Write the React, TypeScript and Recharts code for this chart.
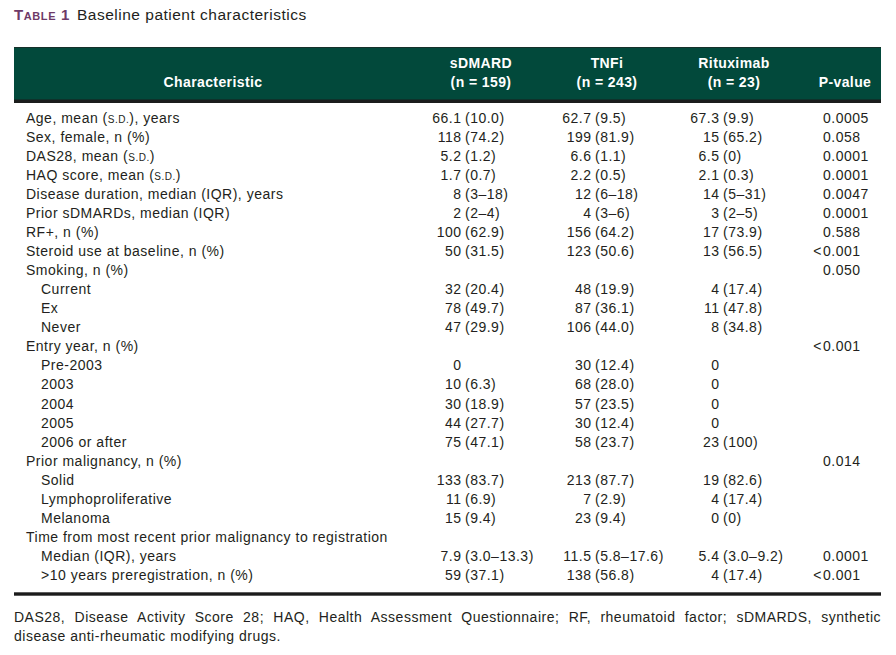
import { ScatterChart, Scatter, XAxis, YAxis, Customized } from "recharts";

// ---- table content ----
const ROW_LABELS = [
  "Age, mean (s.d.), years",
  "Sex, female, n (%)",
  "DAS28, mean (s.d.)",
  "HAQ score, mean (s.d.)",
  "Disease duration, median (IQR), years",
  "Prior sDMARDs, median (IQR)",
  "RF+, n (%)",
  "Steroid use at baseline, n (%)",
  "Smoking, n (%)",
  "Current",
  "Ex",
  "Never",
  "Entry year, n (%)",
  "Pre-2003",
  "2003",
  "2004",
  "2005",
  "2006 or after",
  "Prior malignancy, n (%)",
  "Solid",
  "Lymphoproliferative",
  "Melanoma",
  "Time from most recent prior malignancy to registration",
  "Median (IQR), years",
  ">10 years preregistration, n (%)",
];

// 1 = sub-item of the row group above
const ROW_LEVEL = [0, 0, 0, 0, 0, 0, 0, 0, 0, 1, 1, 1, 0, 1, 1, 1, 1, 1, 0, 1, 1, 1, 0, 1, 1];

const SDMARD = [
  "66.1 (10.0)", "118 (74.2)", "5.2 (1.2)", "1.7 (0.7)", "8 (3–18)", "2 (2–4)",
  "100 (62.9)", "50 (31.5)", "", "32 (20.4)", "78 (49.7)", "47 (29.9)", "",
  "0", "10 (6.3)", "30 (18.9)", "44 (27.7)", "75 (47.1)", "",
  "133 (83.7)", "11 (6.9)", "15 (9.4)", "", "7.9 (3.0–13.3)", "59 (37.1)",
];

const TNFI = [
  "62.7 (9.5)", "199 (81.9)", "6.6 (1.1)", "2.2 (0.5)", "12 (6–18)", "4 (3–6)",
  "156 (64.2)", "123 (50.6)", "", "48 (19.9)", "87 (36.1)", "106 (44.0)", "",
  "30 (12.4)", "68 (28.0)", "57 (23.5)", "30 (12.4)", "58 (23.7)", "",
  "213 (87.7)", "7 (2.9)", "23 (9.4)", "", "11.5 (5.8–17.6)", "138 (56.8)",
];

const RITUXIMAB = [
  "67.3 (9.9)", "15 (65.2)", "6.5 (0)", "2.1 (0.3)", "14 (5–31)", "3 (2–5)",
  "17 (73.9)", "13 (56.5)", "", "4 (17.4)", "11 (47.8)", "8 (34.8)", "",
  "0", "0", "0", "0", "23 (100)", "",
  "19 (82.6)", "4 (17.4)", "0 (0)", "", "5.4 (3.0–9.2)", "4 (17.4)",
];

const P_VALUES = [
  "0.0005", "0.058", "0.0001", "0.0001", "0.0047", "0.0001", "0.588", "<0.001",
  "0.050", "", "", "", "<0.001", "", "", "", "", "", "0.014", "", "", "", "",
  "0.0001", "<0.001",
];

const HEADER_TITLES = ["Characteristic", "sDMARD", "TNFi", "Rituximab", "P-value"];
const HEADER_COUNTS = ["", "(n = 159)", "(n = 243)", "(n = 23)", ""];

const TITLE_LABEL = "Table 1";
const TITLE_TEXT = "Baseline patient characteristics";
const FOOTNOTE_LINES = [
  "DAS28, Disease Activity Score 28; HAQ, Health Assessment Questionnaire; RF, rheumatoid factor; sDMARDS, synthetic",
  "disease anti-rheumatic modifying drugs.",
];

// ---- layout ----
const W = 896;
const H = 655;
const FONT = "'Liberation Sans', Arial, Helvetica, sans-serif";
const INK = "#231f20";
const GREEN = "#02493b";
const PURPLE = "#6e3a68";
const TRACK = 0.5; // the scan is a touch wider than plain Arial

const COL_X = { label: 26, sdmard: 465, tnfi: 595, ritux: 723, p: 823 };
const HEADER_X = [213, 481, 607, 734, 845];
const TABLE_LEFT = 14;
const TABLE_RIGHT = 881;

const toPoints = (texts: string[], x: number) =>
  texts
    .map((text, row) => ({ x, row, text, level: ROW_LEVEL[row] }))
    .filter((d) => d.text !== "");

const labelData = toPoints(ROW_LABELS, COL_X.label);
const sdmardData = toPoints(SDMARD, COL_X.sdmard);
const tnfiData = toPoints(TNFI, COL_X.tnfi);
const rituxData = toPoints(RITUXIMAB, COL_X.ritux);
const pData = toPoints(P_VALUES, COL_X.p);

const textStyle = { fontFamily: FONT, fontSize: 14, fill: INK, letterSpacing: TRACK };

function LabelCell(props: any) {
  const { cx, cy, payload } = props;
  const parts = String(payload.text).split(/(s\.d\.)/);
  return (
    <text x={cx + payload.level * 15} y={cy} dy="0.35em" textAnchor="start" style={textStyle}>
      {parts.map((p: string, i: number) =>
        p === "s.d." ? (
          <tspan key={i} fontSize={10}>
            S.D.
          </tspan>
        ) : (
          <tspan key={i}>{p}</tspan>
        )
      )}
    </text>
  );
}

function ValueCell(props: any) {
  const { cx, cy, payload } = props;
  const t: string = payload.text;
  const i = t.indexOf(" (");
  const head = i >= 0 ? t.slice(0, i) : t;
  const tail = i >= 0 ? t.slice(i + 1) : "";
  return (
    <g>
      <text x={cx - 3.5} y={cy} dy="0.35em" textAnchor="end" style={textStyle}>
        {head}
      </text>
      {tail && (
        <text x={cx} y={cy} dy="0.35em" textAnchor="start" style={textStyle}>
          {tail}
        </text>
      )}
    </g>
  );
}

function PCell(props: any) {
  const { cx, cy, payload } = props;
  const t: string = payload.text;
  const lt = t.startsWith("<");
  return (
    <g>
      {lt && (
        <text x={cx - 1} y={cy} dy="0.35em" textAnchor="end" style={textStyle}>
          {"<"}
        </text>
      )}
      <text x={cx} y={cy} dy="0.35em" textAnchor="start" style={textStyle}>
        {lt ? t.slice(1) : t}
      </text>
    </g>
  );
}

function Frame() {
  const head = {
    fontFamily: FONT,
    fontSize: 14,
    fontWeight: 700,
    fill: "#ffffff",
    letterSpacing: 0.4,
  };
  return (
    <g>
      <text
        x={TABLE_LEFT}
        y={20}
        style={{ fontFamily: FONT, fill: PURPLE, fontWeight: 700, letterSpacing: 0.6 }}
      >
        <tspan fontSize={15}>{TITLE_LABEL[0]}</tspan>
        <tspan fontSize={11}>{TITLE_LABEL.slice(1, 5).toUpperCase()}</tspan>
        <tspan fontSize={15}>{TITLE_LABEL.slice(5)}</tspan>
      </text>
      <text x={77} y={20} style={{ fontFamily: FONT, fontSize: 15.5, fill: INK, letterSpacing: 0.5 }}>
        {TITLE_TEXT}
      </text>

      <rect x={TABLE_LEFT} y={47} width={TABLE_RIGHT - TABLE_LEFT} height={56} fill={GREEN} />
      <rect x={TABLE_LEFT} y={47} width={TABLE_RIGHT - TABLE_LEFT} height={1} fill="#16302a" />
      <rect x={TABLE_LEFT} y={99.5} width={TABLE_RIGHT - TABLE_LEFT} height={3.5} fill="#1b1d1c" />
      {HEADER_TITLES.map((t, i) =>
        HEADER_COUNTS[i] ? (
          <g key={t}>
            <text x={HEADER_X[i]} y={68} textAnchor="middle" style={head}>
              {t}
            </text>
            <text x={HEADER_X[i]} y={87} textAnchor="middle" style={head}>
              {HEADER_COUNTS[i]}
            </text>
          </g>
        ) : (
          <text key={t} x={HEADER_X[i]} y={87} textAnchor="middle" style={head}>
            {t}
          </text>
        )
      )}

      <rect x={TABLE_LEFT} y={592.3} width={TABLE_RIGHT - TABLE_LEFT} height={3.4} fill="#1b1b1b" />
    </g>
  );
}

export default function App() {
  return (
    <div style={{ position: "absolute", left: 0, top: 0, width: W, height: H, background: "#fff" }}>
      <ScatterChart width={W} height={H} margin={{ top: 118, right: 0, bottom: 80, left: 0 }}>
        <XAxis type="number" dataKey="x" domain={[0, W]} hide />
        <YAxis type="number" dataKey="row" domain={[0, 24]} reversed hide />
        <Customized component={Frame} />
        <Scatter data={labelData} shape={LabelCell} isAnimationActive={false} />
        <Scatter data={sdmardData} shape={ValueCell} isAnimationActive={false} />
        <Scatter data={tnfiData} shape={ValueCell} isAnimationActive={false} />
        <Scatter data={rituxData} shape={ValueCell} isAnimationActive={false} />
        <Scatter data={pData} shape={PCell} isAnimationActive={false} />
      </ScatterChart>
      <div
        style={{
          position: "absolute",
          left: TABLE_LEFT,
          top: 608,
          width: TABLE_RIGHT - TABLE_LEFT,
          fontFamily: FONT,
          fontSize: 14,
          lineHeight: "19px",
          letterSpacing: TRACK,
          color: INK,
        }}
      >
        {FOOTNOTE_LINES.map((line, i) => (
          <div
            key={i}
            style={{
              whiteSpace: "nowrap",
              textAlign: i < FOOTNOTE_LINES.length - 1 ? "justify" : "left",
              textAlignLast: i < FOOTNOTE_LINES.length - 1 ? "justify" : "auto",
            }}
          >
            {line}
          </div>
        ))}
      </div>
    </div>
  );
}
